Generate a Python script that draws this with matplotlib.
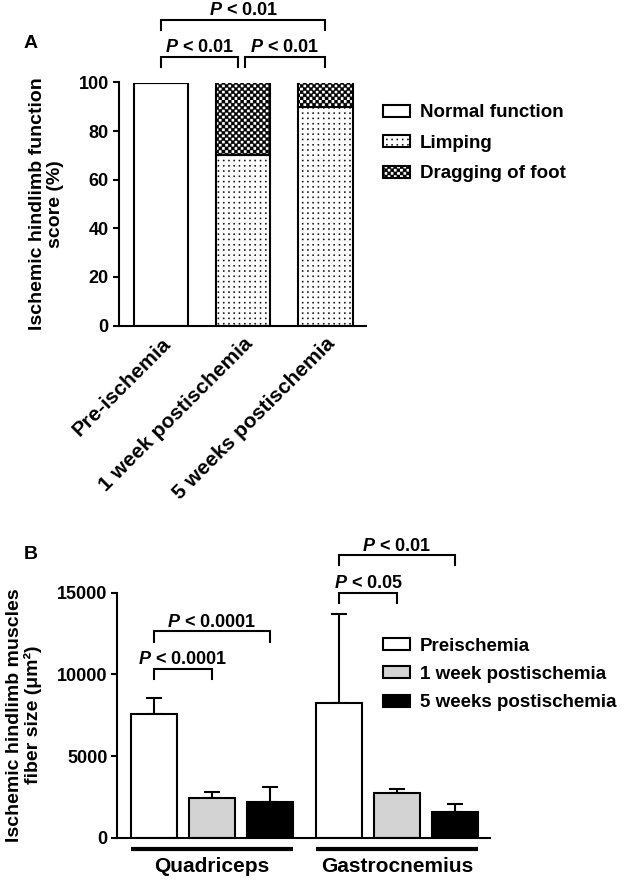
import warnings
warnings.filterwarnings("ignore")
import numpy as np
import matplotlib
matplotlib.use("Agg")
import matplotlib.pyplot as plt
import matplotlib.hatch as mhatch
from matplotlib.path import Path
from matplotlib.patches import Patch

# ---------------- data ----------------
categories_A = ["Pre-ischemia", "1 week postischemia", "5 weeks postischemia"]
normal_A = [100, 0, 0]
limping_A = [0, 70, 90]
dragging_A = [0, 30, 10]
legend_A = ["Normal function", "Limping", "Dragging of foot"]

groups_B = ["Quadriceps", "Gastrocnemius"]
series_B = ["Preischemia", "1 week postischemia", "5 weeks postischemia"]
means_B = {
    "Preischemia": [7560, 8230],
    "1 week postischemia": [2450, 2740],
    "5 weeks postischemia": [2190, 1590],
}
err_B = {
    "Preischemia": [980, 5490],
    "1 week postischemia": [370, 270],
    "5 weeks postischemia": [930, 490],
}
colors_B = ["white", "#d3d3d3", "black"]

# brackets: (x_from, x_to, y_top, y_drop, text)
brackets_A = [(0, 2, 125.7, 121.6, "$P$ < 0.01"),
              (0, 0.94, 110.5, 106.4, "$P$ < 0.01"),
              (1.02, 2, 110.5, 106.4, "$P$ < 0.01")]
# (group, bar_from, bar_to, y_top, y_drop, text)
brackets_B = [(0, 0, 2, 12660, 11980, "$P$ < 0.0001"),
              (0, 0, 1, 10350, 9700, "$P$ < 0.0001"),
              (1, 0, 2, 17300, 16700, "$P$ < 0.01"),
              (1, 0, 1, 15000, 14400, "$P$ < 0.05")]

# ---------------- custom hatches ----------------
class DotHatch(mhatch.HatchPatternBase):
    def __init__(self, hatch, density):
        self.n = 19 if "d" in hatch else 0
        self.num_vertices = self.n * self.n * 5

    def set_vertices_and_codes(self, vertices, codes):
        s = 0.0055
        step = 1.0 / self.n
        k = 0
        for i in range(self.n):
            for j in range(self.n):
                cx, cy = (i + 0.5) * step, (j + 0.5) * step
                vertices[k:k + 5] = [[cx - s, cy - s], [cx + s, cy - s],
                                     [cx + s, cy + s], [cx - s, cy + s],
                                     [cx - s, cy - s]]
                codes[k:k + 5] = [Path.MOVETO, Path.LINETO, Path.LINETO,
                                  Path.LINETO, Path.CLOSEPOLY]
                k += 5


class CheckerHatch(mhatch.HatchPatternBase):
    def __init__(self, hatch, density):
        self.n = 32 if "c" in hatch else 0
        self.num_vertices = (self.n * self.n // 2) * 5

    def set_vertices_and_codes(self, vertices, codes):
        step = 1.0 / self.n
        k = 0
        for i in range(self.n):
            for j in range(self.n):
                if (i + j) % 2:
                    continue
                x0, y0 = i * step, j * step
                x1, y1 = x0 + step, y0 + step
                vertices[k:k + 5] = [[x0, y0], [x1, y0], [x1, y1], [x0, y1], [x0, y0]]
                codes[k:k + 5] = [Path.MOVETO, Path.LINETO, Path.LINETO,
                                  Path.LINETO, Path.CLOSEPOLY]
                k += 5


mhatch._hatch_types.append(DotHatch)
mhatch._hatch_types.append(CheckerHatch)

# ---------------- style ----------------
plt.rcParams["font.family"] = ["Liberation Sans", "DejaVu Sans"]
plt.rcParams["font.weight"] = "bold"
plt.rcParams["axes.labelweight"] = "bold"
plt.rcParams["font.size"] = 13
plt.rcParams["mathtext.fontset"] = "custom"
plt.rcParams["mathtext.it"] = "Liberation Sans:italic:bold"
plt.rcParams["mathtext.rm"] = "Liberation Sans:bold"
plt.rcParams["hatch.linewidth"] = 0.3
plt.rcParams["hatch.color"] = "black"
plt.rcParams["axes.linewidth"] = 1.5

LW = 1.5
PFS = 13
fig = plt.figure(figsize=(6.25, 8.83), dpi=100)
W, H = 625, 883

# ---------------- panel A ----------------
axA = fig.add_axes([118.5 / W, 1 - 325.5 / H, 247.5 / W, 243 / H])
xA = np.arange(len(categories_A))
wA = 0.663
bottom_d = np.array(normal_A) + np.array(limping_A)
axA.bar(xA, normal_A, wA, color="white", edgecolor="black", linewidth=LW)
axA.bar(xA, limping_A, wA, bottom=normal_A, color="white", edgecolor="black",
        linewidth=LW, hatch="d")
axA.bar(xA, dragging_A, wA, bottom=bottom_d, color="white", edgecolor="black",
        linewidth=LW, hatch="c")
axA.set_xlim(-0.514, 2.495)
axA.set_ylim(0, 100)
axA.set_yticks([0, 20, 40, 60, 80, 100])
axA.set_xticks(xA)
axA.set_xticklabels(categories_A, rotation=45, ha="right", va="top",
                    rotation_mode="anchor", fontsize=15)
axA.tick_params(axis="x", length=0, pad=6)
axA.tick_params(axis="y", length=4, width=LW, pad=3, labelsize=13)
for s in ["top", "right"]:
    axA.spines[s].set_visible(False)
axA.set_ylabel("Ischemic hindlimb function\nscore (%)", fontsize=14,
               linespacing=1.1)
axA.yaxis.set_label_coords(-0.22, 0.5)

for x0, x1, yt, yd, txt in brackets_A:
    axA.plot([x0, x0, x1, x1], [yd, yt, yt, yd], color="black", lw=LW,
             clip_on=False, solid_joinstyle="miter")
    axA.text((x0 + x1) / 2, yt + 2.1, txt, ha="center", va="baseline",
             fontsize=PFS, clip_on=False)

handlesA = [Patch(facecolor="white", edgecolor="black", linewidth=LW),
            Patch(facecolor="white", edgecolor="black", linewidth=LW, hatch="d"),
            Patch(facecolor="white", edgecolor="black", linewidth=LW, hatch="c")]
axA.legend(handlesA, legend_A, loc="upper left", fontsize=13.5,
           bbox_to_anchor=(383.3 / W, 1 - 104.4 / H), bbox_transform=fig.transFigure,
           frameon=False, borderpad=0, borderaxespad=0, handlelength=1.42,
           handleheight=0.6, handletextpad=0.53, labelspacing=0.72)

fig.text(24 / W, 1 - 43 / H, "A", fontsize=14, fontweight="bold", va="center")

# ---------------- panel B ----------------
axB = fig.add_axes([117.3 / W, 1 - 837.7 / H, 372.7 / W, 245 / H])
xB = np.arange(len(groups_B))
off = 0.312
wB = 0.248
for i, s in enumerate(series_B):
    pos = xB + (i - 1) * off
    axB.bar(pos, means_B[s], wB, color=colors_B[i], edgecolor="black",
            linewidth=LW, zorder=2)
    axB.errorbar(pos, means_B[s], yerr=[np.zeros(len(xB)), err_B[s]],
                 fmt="none", ecolor="black", elinewidth=LW, capsize=5.5,
                 capthick=LW, zorder=1)
axB.set_xlim(-0.51, 1.502)
axB.set_ylim(0, 15000)
axB.set_yticks([0, 5000, 10000, 15000])
axB.set_xticks(xB)
axB.set_xticklabels(groups_B, fontsize=15)
axB.tick_params(axis="x", length=0, pad=14)
axB.tick_params(axis="y", length=4, width=LW, pad=3, labelsize=13)
for s in ["top", "right"]:
    axB.spines[s].set_visible(False)
axB.set_ylabel("Ischemic hindlimb muscles\nfiber size (μm²)", fontsize=14,
               linespacing=1.1)
axB.yaxis.set_label_coords(-0.202, 0.5)

trans = axB.get_xaxis_transform()
for g in xB:
    axB.plot([g - off - wB / 2, g + off + wB / 2], [-0.046, -0.046],
             color="black", lw=3, transform=trans, clip_on=False,
             solid_capstyle="butt")

for g, b0, b1, yt, yd, txt in brackets_B:
    x0 = g + (b0 - 1) * off
    x1 = g + (b1 - 1) * off
    axB.plot([x0, x0, x1, x1], [yd, yt, yt, yd], color="black", lw=LW,
             clip_on=False, solid_joinstyle="miter")
    axB.text((x0 + x1) / 2, yt + 260, txt, ha="center", va="baseline",
             fontsize=PFS, clip_on=False)

handlesB = [Patch(facecolor=c, edgecolor="black", linewidth=LW) for c in colors_B]
axB.legend(handlesB, series_B, loc="upper left", fontsize=13.5,
           bbox_to_anchor=(383.3 / W, 1 - 637.7 / H), bbox_transform=fig.transFigure,
           frameon=False, borderpad=0, borderaxespad=0, handlelength=1.42,
           handleheight=0.6, handletextpad=0.53, labelspacing=0.6)

fig.text(24 / W, 1 - 554.5 / H, "B", fontsize=14, fontweight="bold", va="center")

fig.savefig("out.png", dpi=100)
